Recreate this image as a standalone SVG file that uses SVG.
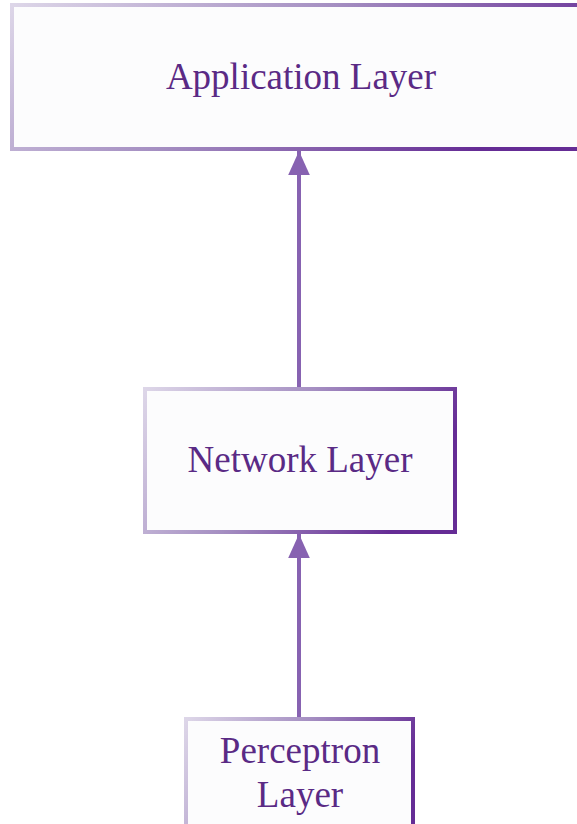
<svg xmlns="http://www.w3.org/2000/svg" width="577" height="824" viewBox="0 0 577 824">
  <defs>
    <linearGradient id="edge" x1="0" y1="0" x2="1" y2="0.3">
      <stop offset="0" stop-color="#ddd6e8"/>
      <stop offset="0.5" stop-color="#a58fc2"/>
      <stop offset="1" stop-color="#652c95"/>
    </linearGradient>
    <marker id="arrow" viewBox="0 0 10 10" refX="10" refY="5" markerWidth="6" markerHeight="6" markerUnits="strokeWidth" orient="auto">
      <path d="M0,0.5 L10,5 L0,9.5 z" fill="#8762b1"/>
    </marker>
    <style>
      .box { fill: #fcfcfd; stroke: url(#edge); stroke-width: 4; }
      .label { font-family: "Liberation Serif", "Times New Roman", serif; font-size: 37px; fill: #5a2a85; text-anchor: middle; }
      .link { stroke: #8762b1; stroke-width: 4; fill: none; }
    </style>
  </defs>

  <g id="connectors">
    <line class="link" x1="299" y1="389" x2="299" y2="151" marker-end="url(#arrow)"/>
    <line class="link" x1="299" y1="718" x2="299" y2="534" marker-end="url(#arrow)"/>
  </g>

  <g id="application-layer">
    <rect class="box" x="12" y="5" width="590" height="144"/>
    <text class="label" x="301" y="89">Application Layer</text>
  </g>

  <g id="network-layer">
    <rect class="box" x="145" y="389" width="310" height="143"/>
    <text class="label" x="300" y="472">Network Layer</text>
  </g>

  <g id="perceptron-layer">
    <rect class="box" x="186" y="719" width="227" height="130"/>
    <text class="label" x="300" y="763">Perceptron</text>
    <text class="label" x="300" y="807">Layer</text>
  </g>
</svg>
